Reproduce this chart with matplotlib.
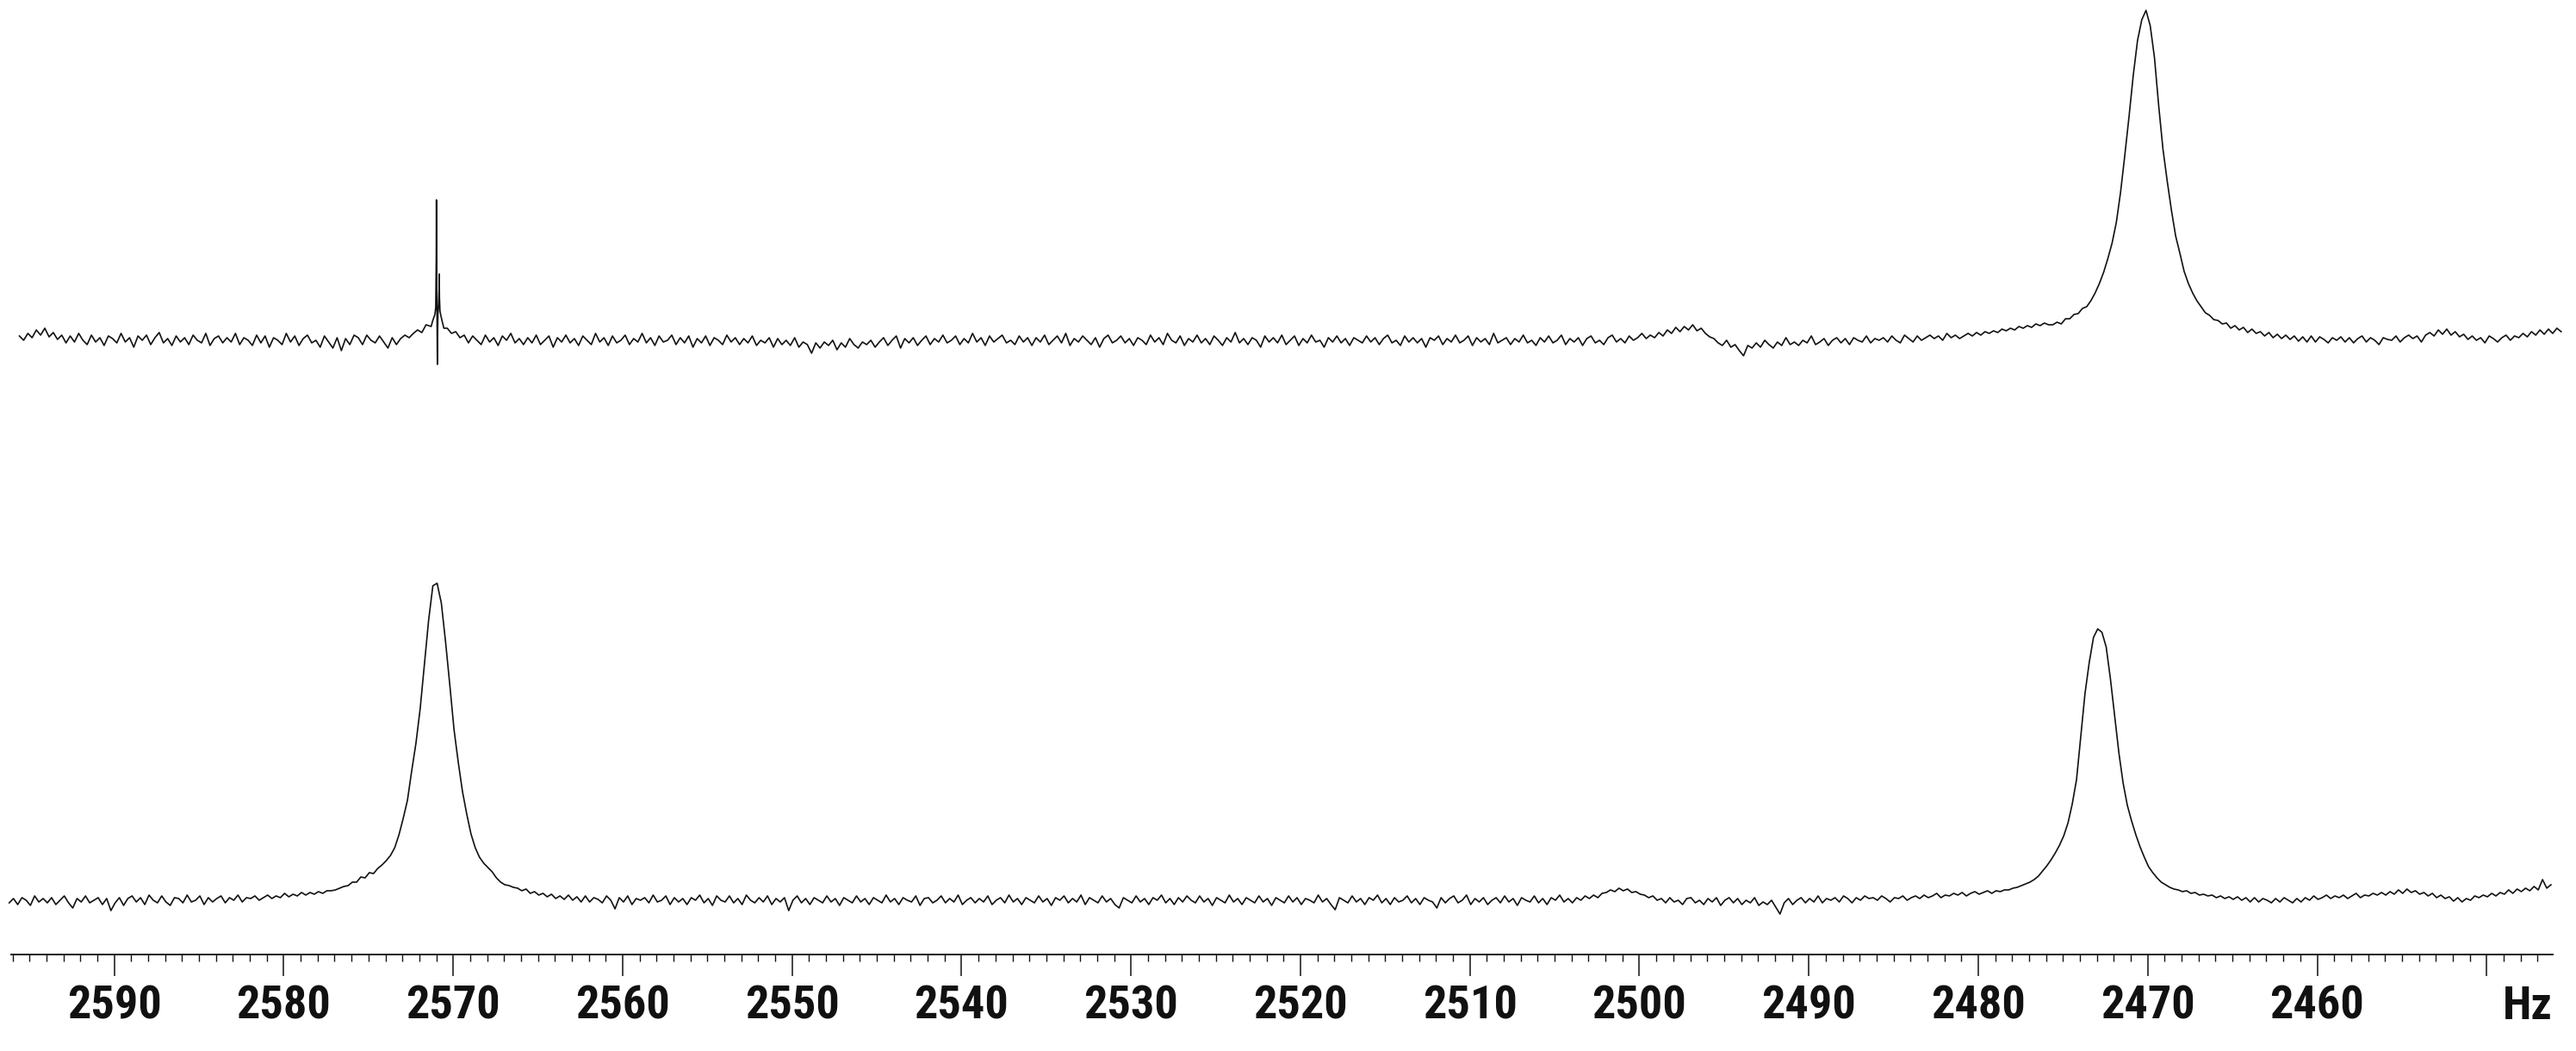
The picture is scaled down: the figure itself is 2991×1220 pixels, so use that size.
import os
import numpy as np
import matplotlib
matplotlib.use("Agg")
import matplotlib.pyplot as plt
from matplotlib import font_manager as fm
from matplotlib.ticker import MultipleLocator, FuncFormatter

# ---------------- data ----------------
step_hz = 0.25                 # sampling of the transcribed traces (Hz)
top_start_hz = 2595.6          # first point of the upper spectrum
bottom_start_hz = 2596.2       # first point of the lower spectrum

# upper spectrum intensities (px units above its baseline), 2595.6 -> 2445.6 Hz
top_vals = (
    [5,0,8,3,12,6,14,4,9,1, 6,-3,5,-2,8,0,-5,6,-2,3, -6,5,2,-3,8,-2,3,-8,5,0, 6,-5,3,9,-3,2,-6,5,-2,3]
  + [-5,6,0,-3,8,-6,2,5,-3,3, -2,8,-5,3,0,-6,6,-3,5,-8, 3,0,-5,8,-2,5,-6,2,6,-3, 0,-8,5,-2,-9,3,-12,2,-5,6]
  + [3,-5,6,0,-3,5,-2,-9,3,-5, 2,6,3,8,12,9,18,20,20,18, 12,14,8,10,3,6,-3,5,0,-5, 6,-2,3,-6,5,0,8,-3,2,-5]
  + [3,-3,6,-5,0,5,-8,3,-2,6, -3,2,-6,5,0,-5,8,-2,3,-6, 5,-3,0,6,-5,2,-2,8,-3,3, -6,5,-2,0,6,-5,3,-3,5,-8]
  + [2,-3,5,-6,3,0,-5,6,-2,3, -5,2,-3,5,-6,0,-3,3,-8,2, -5,0,-6,3,-8,-2,-5,-15,-3,-9, -2,-6,0,-11,-3,-8,2,-5,-9,-2]
  + [-5,0,-8,-2,3,-6,0,5,-9,2, -3,3,-6,0,5,-5,2,-2,6,-3, 0,5,-5,2,-3,8,-2,3,-6,5, -2,2,6,-3,0,-5,5,-2,3,-6]
  + [3,-2,6,-5,0,5,-3,8,-6,2, -2,5,0,-5,3,-8,2,6,-3,0, 5,-3,2,-6,3,0,-5,6,-2,3, -5,8,0,-3,5,-6,2,-2,6,-3]
  + [2,-5,5,0,-6,3,-2,9,-3,2, -5,3,0,-8,5,-2,3,-3,6,-5, 0,5,-6,2,-3,6,-2,0,-8,3, -2,5,-3,2,-6,3,0,-3,5,-2]
  + [3,-5,2,6,-3,0,-6,5,-2,3, -3,2,-8,3,0,5,-5,2,-2,6, -3,0,5,-6,3,-2,2,-5,8,-3, 0,3,-5,2,-2,6,-3,0,-6,3]
  + [-2,5,-3,0,6,-5,2,-2,3,-6, 2,5,-3,0,-5,3,6,-2,2,-3, 5,0,3,8,2,6,3,9,5,12, 8,15,10,16,12,18,11,14,8,4]
  + [2,-3,-6,0,-8,-5,-12,-18,-6,-9, -3,-8,0,-5,-9,-2,-6,3,-5,-2, -6,0,-3,5,-5,-2,2,-6,0,3, -3,2,-5,3,0,-2,5,-3,2,0]
  + [3,-2,5,0,-3,6,2,-2,5,0, 3,6,2,5,0,8,3,6,2,5, 8,5,9,6,10,8,11,9,13,11, 14,12,16,14,17,15,19,17,20,18]
  + [18,21,19,25,25,30,31,37,39,46, 55,66,79,95,113,137,172,215,260,308, 348,372,383,365,328,272,222,185,151,121, 101,80,66,55,46,39,32,29,24,23]
  + [19,20,14,17,12,15,9,13,8,10, 5,9,3,7,2,6,1,5,-1,4, -2,5,-2,4,1,-3,3,0,4,-2, 3,-3,2,5,-2,3,0,-5,3,1]
  + [0,5,-2,3,6,2,5,-2,6,9, 5,12,7,13,6,10,4,7,1,5, 0,3,-3,5,2,-2,3,6,0,5, 3,8,4,10,6,12,7,13,8,14, 10]
)

# narrow artefact near 2571 Hz in the upper spectrum (finely sampled)
spike_hz = [2571.30, 2571.22, 2571.15, 2571.08, 2571.03, 2571.00, 2570.99, 2570.98,
            2570.955, 2570.935, 2570.92, 2570.90, 2570.86, 2570.83, 2570.82, 2570.81,
            2570.78, 2570.72, 2570.65, 2570.55]
spike_vals = [16, 22, 26, 30, 38, 95, 163, 100, 30, -28, 5, 30, 42, 60, 77, 50, 34, 28, 22, 14]

# lower spectrum intensities, 2596.2 -> 2446.2 Hz
bottom_vals = (
    [-3,2,-5,3,0,-6,5,-2,2,-3, 3,-5,0,5,-3,-9,2,-2,5,-3, 0,3,-5,2,-12,-3,3,-6,2,5, -2,3,-5,6,0,-3,5,-2,-6,3]
  + [2,-3,6,-2,0,5,-5,3,-2,2, 5,-3,3,0,6,-2,3,2,5,0, 3,6,2,5,3,8,4,7,5,9, 6,9,7,10,8,11,11,12,14,16]
  + [17,21,21,27,26,32,31,37,41,46, 52,61,76,95,116,150,182,222,273,325, 365,368,345,300,250,198,160,126,100,77, 61,50,43,38,33,26,21,18,17,15]
  + [14,11,13,8,10,6,8,4,7,2, 5,1,6,0,4,-2,5,-2,3,1, -3,5,0,-10,3,-2,5,-5,2,0, 3,-3,6,-2,0,5,-5,3,-2,2]
  + [-5,3,0,6,-3,2,-6,5,0,-2, 5,-3,2,-5,6,0,-3,3,-2,5, -5,2,-2,3,-12,0,5,-3,2,-5, 3,0,-3,5,-2,2,-6,3,0,-3]
  + [5,-2,2,-5,3,0,-3,6,-2,2, -5,3,0,-2,5,-6,2,3,-3,0, 5,-3,2,-2,6,-5,0,3,-3,2, -2,5,-5,0,3,-3,6,-2,2,-5]
  + [3,0,-3,5,-2,2,-6,3,0,5, -3,2,-2,6,-5,3,0,-3,5,-2, 2,-5,-9,3,0,-3,5,-2,2,-5, 3,0,6,-3,2,-5,3,-2,5,0]
  + [-3,5,-2,2,-6,3,0,-3,6,-2, 2,-5,3,0,-3,5,-2,2,-6,3, 0,-3,5,-2,3,-5,2,0,-3,6, -2,2,-5,-11,3,0,-3,5,-2,2]
  + [-5,3,0,6,-3,2,-5,3,-2,0, 5,-3,2,-5,3,0,-2,-9,3,-3, 2,5,-3,0,6,-5,2,-2,3,-5, 0,3,-3,5,-2,2,-6,3,0,-2]
  + [5,-3,2,-5,3,0,6,-2,2,-3, 3,0,5,2,6,3,8,9,12,10, 14,11,13,9,10,7,6,3,5,0, 2,-3,3,-2,0,-5,2,3,-3,0]
  + [-5,2,-2,3,-6,0,3,-3,2,-5, 0,-3,3,-6,-2,-5,0,-8,-16,-3, 2,-5,0,3,-3,2,-2,5,-3,2, 0,3,-2,5,2,-3,3,0,5,2]
  + [3,0,5,2,-2,3,2,5,0,3, 5,2,6,3,5,8,3,6,5,8, 6,9,5,8,10,7,9,11,8,11, 10,12,12,14,15,17,19,21,24,28]
  + [34,40,47,55,64,75,90,112,140,190, 240,276,305,315,311,294,257,214,171,136, 110,92,76,62,50,39,32,26,21,18, 15,13,12,10,11,8,9,6,7,5]
  + [6,3,5,2,4,1,4,0,3,-2, 3,-2,2,0,-3,2,-2,3,0,-3, 2,-2,3,0,5,1,3,6,2,5, 3,6,2,5,8,3,6,5,8,6]
  + [9,6,10,7,12,8,13,9,11,7, 9,5,8,3,6,2,4,-1,3,-2, 2,0,5,3,6,4,8,5,9,7, 12,8,13,10,14,11,16,12,24,14, 18]
)

scale_min_hz, scale_max_hz = 2446.1, 2596.1
major_step_hz, minor_step_hz = 10, 1
unlabelled_ticks = [2450]
unit_label = "Hz"

# ---------------- styling / layout ----------------
W, H = 2991, 1220
INK = "#111111"


def find_label_font():
    """Prefer a condensed bold sans (the reference uses Helvetica Condensed Bold)."""
    prefs = ["liberationsansnarrow-bold", "arialnarrow", "robotocondensed-bold",
             "notosans-condensedbold", "opensans-condensedbold", "dejavusanscondensed-bold"]
    files = {os.path.basename(f.fname).lower(): f.fname for f in fm.fontManager.ttflist}
    for p in prefs:
        for name, path in files.items():
            if name.startswith(p) and "italic" not in name and "oblique" not in name:
                return fm.FontProperties(fname=path)
    for name, path in files.items():
        if ("narrow" in name or "condensed" in name) and "bold" in name \
                and "italic" not in name and "oblique" not in name and "semi" not in name \
                and "extra" not in name:
            return fm.FontProperties(fname=path)
    return fm.FontProperties(family=["Liberation Sans", "DejaVu Sans"], weight="bold")


label_font = find_label_font()

fig = plt.figure(figsize=(W / 100, H / 100), dpi=100)
fig.patch.set_facecolor("white")

# font size chosen so that a 4-digit label is ~110 px wide, as in the reference
renderer = fig.canvas.get_renderer()
probe = fig.text(0, 0, "2590", fontproperties=label_font, fontsize=40)
w40 = probe.get_window_extent(renderer).width
probe.remove()
fs = 40 * 110.0 / max(w40, 1.0)
fs = min(fs, 44)
label_font.set_size(fs)

# spectrum area: full figure, pixel-like vertical units
ax = fig.add_axes([0, 0, 1, 1])
px_per_hz = 19.675
ax.set_xlim(2590 + 132.7 / px_per_hz, 2590 - (W - 132.7) / px_per_hz)
ax.set_ylim(0, H)
ax.axis("off")

top_offset = H - 395
bottom_offset = H - 1045
line_kw = dict(color=INK, lw=1.2, solid_joinstyle="round")

top_vals = np.asarray(top_vals, float)
top_hz = top_start_hz - step_hz * np.arange(len(top_vals))
keep = ~((top_hz > min(spike_hz) - 0.01) & (top_hz < max(spike_hz) + 0.06))
hz_all = np.concatenate([top_hz[keep], spike_hz])
val_all = np.concatenate([top_vals[keep], spike_vals])
order = np.argsort(-hz_all)
ax.plot(hz_all[order], top_offset + val_all[order], **line_kw)

bottom_vals = np.asarray(bottom_vals, float)
bottom_hz = bottom_start_hz - step_hz * np.arange(len(bottom_vals))
ax.plot(bottom_hz, bottom_offset + bottom_vals, **line_kw)

# frequency scale
left_px, right_px, axis_y_px = 12.7, 2964.0, 1108
sax = fig.add_axes([left_px / W, (H - axis_y_px) / H, (right_px - left_px) / W, 1e-6])
sax.patch.set_visible(False)
sax.set_xlim(scale_max_hz, scale_min_hz)
sax.set_ylim(0, 1)
for s in ["top", "left", "right"]:
    sax.spines[s].set_visible(False)
sax.spines["bottom"].set_linewidth(1.4)
sax.spines["bottom"].set_color(INK)
sax.yaxis.set_visible(False)
sax.xaxis.set_major_locator(MultipleLocator(major_step_hz))
sax.xaxis.set_minor_locator(MultipleLocator(minor_step_hz))
sax.xaxis.set_major_formatter(FuncFormatter(
    lambda v, p: "" if any(abs(v - u) < 0.5 for u in unlabelled_ticks) else f"{v:.0f}"))
major_len, pad = 18, 7
sax.tick_params(axis="x", which="major", direction="out", length=major_len, width=1.1,
                pad=pad, colors=INK)
sax.tick_params(axis="x", which="minor", direction="out", length=5.5, width=1.0, colors=INK)
for lbl in sax.get_xticklabels():
    lbl.set_fontproperties(label_font)

sax.annotate(unit_label, xy=(2447.6, 0), xycoords=("data", "axes fraction"),
             xytext=(0, -(major_len + pad)), textcoords="offset points",
             ha="center", va="top", fontproperties=label_font, color=INK)

fig.savefig("out.png", dpi=100, facecolor="white")
